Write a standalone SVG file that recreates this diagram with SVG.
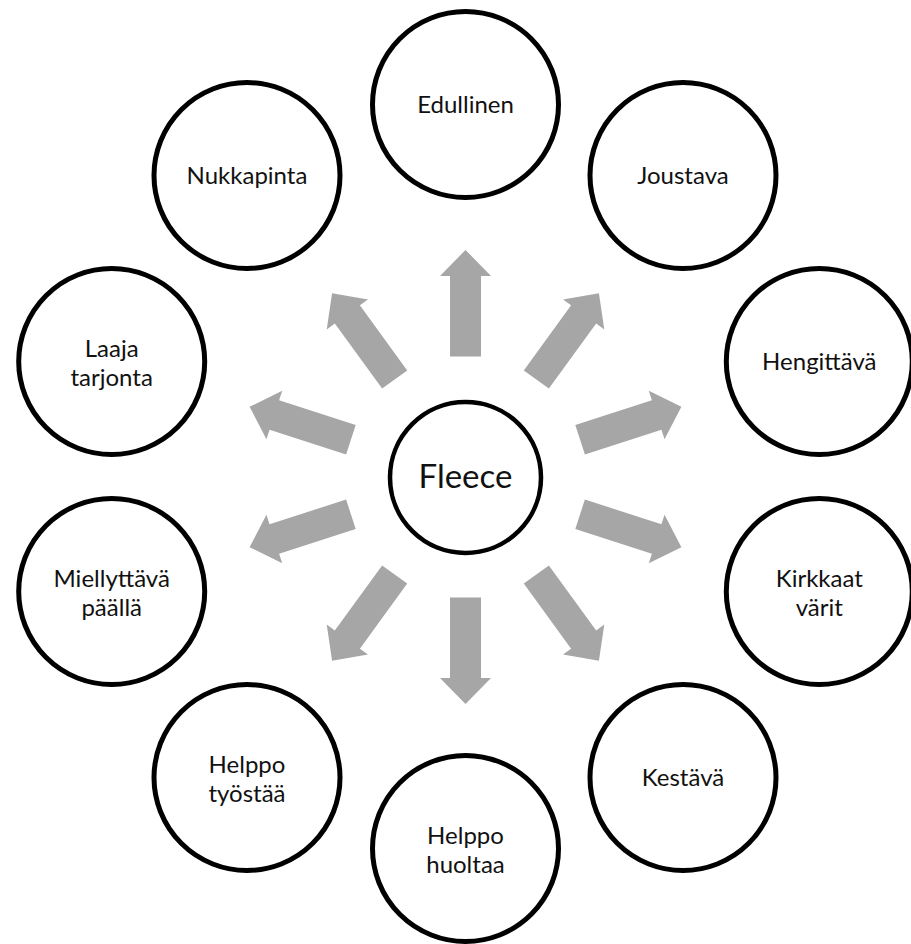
<svg xmlns="http://www.w3.org/2000/svg" xmlns:xlink="http://www.w3.org/1999/xlink" width="911" height="944" viewBox="0 0 911 944">
<style>
.node circle{fill:#fff;stroke:#000;stroke-width:5}
.node text{font-family:Lato,"Open Sans","Liberation Sans",sans-serif;font-size:24px;fill:#111;text-anchor:middle}
#fleece text{font-size:33px}
.arrow{fill:#A6A6A6}
</style>
<defs>
<polygon id="arr" class="arrow" points="120.5,-15.5 201,-15.5 201,-25.5 227,0 201,25.5 201,15.5 120.5,15.5"/>
</defs>
<g id="connectors">
<use xlink:href="#arr" transform="translate(465.5,477) rotate(-90)"/>
<use xlink:href="#arr" transform="translate(465.5,477) rotate(-54)"/>
<use xlink:href="#arr" transform="translate(465.5,477) rotate(-18)"/>
<use xlink:href="#arr" transform="translate(465.5,477) rotate(18)"/>
<use xlink:href="#arr" transform="translate(465.5,477) rotate(54)"/>
<use xlink:href="#arr" transform="translate(465.5,477) rotate(90)"/>
<use xlink:href="#arr" transform="translate(465.5,477) rotate(126)"/>
<use xlink:href="#arr" transform="translate(465.5,477) rotate(162)"/>
<use xlink:href="#arr" transform="translate(465.5,477) rotate(-162)"/>
<use xlink:href="#arr" transform="translate(465.5,477) rotate(-126)"/>
</g>
<g id="fleece" class="node"><circle cx="465.5" cy="477.5" r="75.5" style="stroke-width:4.5"/><text x="465.5" y="488">Fleece</text></g>
<g id="edullinen" class="node"><circle cx="465.5" cy="104.5" r="93"/><text x="465.5" y="113">Edullinen</text></g>
<g id="joustava" class="node"><circle cx="683" cy="175.5" r="93"/><text x="683" y="184">Joustava</text></g>
<g id="hengittava" class="node"><circle cx="819.3" cy="361.5" r="93"/><text x="819.3" y="370">Hengittävä</text></g>
<g id="kirkkaat" class="node"><circle cx="819.3" cy="591.5" r="93"/><text x="819.3" y="587">Kirkkaat</text><text x="819.3" y="616">värit</text></g>
<g id="kestava" class="node"><circle cx="683" cy="777.5" r="93"/><text x="683" y="786">Kestävä</text></g>
<g id="huoltaa" class="node"><circle cx="465.5" cy="848.5" r="93"/><text x="465.5" y="844">Helppo</text><text x="465.5" y="873">huoltaa</text></g>
<g id="tyostaa" class="node"><circle cx="247" cy="777.5" r="93"/><text x="247" y="773">Helppo</text><text x="247" y="802">työstää</text></g>
<g id="miellyttava" class="node"><circle cx="111.7" cy="591.5" r="93"/><text x="111.7" y="587">Miellyttävä</text><text x="111.7" y="616">päällä</text></g>
<g id="laaja" class="node"><circle cx="111.7" cy="361.5" r="93"/><text x="111.7" y="357">Laaja</text><text x="111.7" y="386">tarjonta</text></g>
<g id="nukkapinta" class="node"><circle cx="247" cy="175.5" r="93"/><text x="247" y="184">Nukkapinta</text></g>
</svg>
